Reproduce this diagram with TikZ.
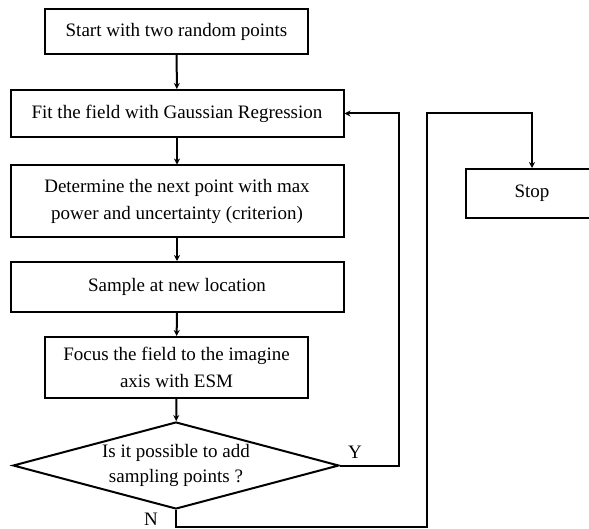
\documentclass[tikz,border=0pt]{standalone}
\usepackage{fontspec}
\setmainfont{Liberation Serif}
\usetikzlibrary{arrows.meta,shapes.geometric}

\tikzset{
  block/.style={draw,line width=2pt,align=center,font=\fontsize{19}{27}\selectfont},
  decide/.style={draw,diamond,line width=2pt,inner sep=0pt},
  flow/.style={line width=2pt,-{Stealth[length=6pt,width=6pt]}},
  tag/.style={font=\fontsize{19}{25}\selectfont}
}

\begin{document}
\begin{tikzpicture}[x=1pt,y=-1pt]
  \useasboundingbox (0,0) rectangle (589,529);
  % main column
  \node[block,minimum width=263pt,minimum height=45pt] (start) at (176.5,31.5) {Start with two random points};
  \node[block,minimum width=333pt,minimum height=47pt] (fit) at (177,113.5) {Fit the field with Gaussian Regression};
  \node[block,minimum width=333pt,minimum height=72pt] (next) at (177,201.5) {Determine the next point with max\\power and uncertainty (criterion)};
  \node[block,minimum width=333pt,minimum height=50pt] (sample) at (177,287) {Sample at new location};
  \node[block,minimum width=263pt,minimum height=61pt] (focus) at (176.5,367.5) {Focus the field to the imagine\\axis with ESM};
  \node[decide,minimum width=326pt,minimum height=87pt] (check) at (176,465.5) {};
  \node[tag,align=center] (checktxt) at (check) {Is it possible to add\\sampling points ?};
  % stop
  \node[block,minimum width=132pt,minimum height=49pt] (stop) at (532,193.5) {Stop};

  \draw[flow] (start) -- (fit);
  \draw[flow] (fit) -- (next);
  \draw[flow] (next) -- (sample);
  \draw[flow] (sample) -- (focus);
  \draw[flow] (focus) -- (check);

  % Y: back to fit
  \coordinate (yturn) at (399,113.5);
  \draw[flow] (check.east) -| (yturn) -- (fit.east);
  \node[tag] (ylab) at (355,452) {Y};

  % N: on to stop
  \coordinate (nlow) at (427,527);
  \coordinate (nhigh) at (427,113.5);
  \draw[flow] (check.south) |- (nlow) -- (nhigh) -| (stop.north);
  \node[tag] (nlab) at (151,519) {N};
\end{tikzpicture}
\end{document}
